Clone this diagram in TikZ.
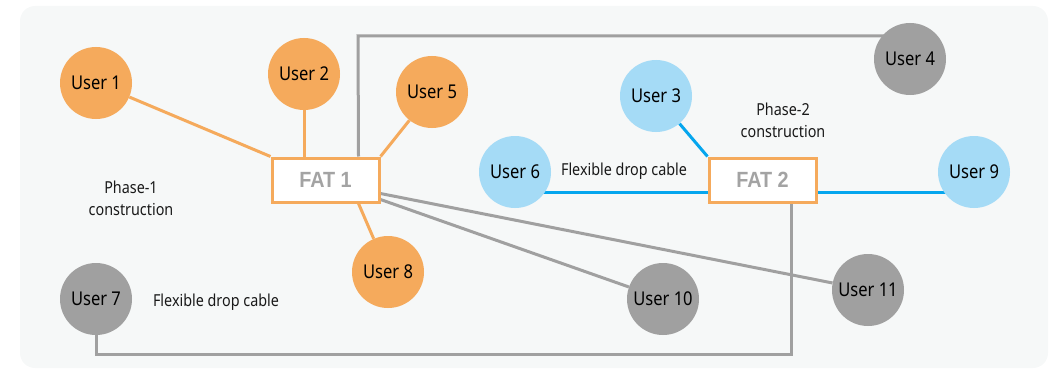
\documentclass[tikz,border=0pt]{standalone}
\usepackage{fontspec}
\setmainfont{Noto Sans}[FakeStretch=0.87]
\newfontfamily\fatfont{Liberation Sans}[FakeStretch=0.9]
\usetikzlibrary{calc}
\definecolor{panel}{HTML}{F6F8F8}
\definecolor{uorange}{HTML}{F5AA5C}
\definecolor{ublue}{HTML}{A5DBF6}
\definecolor{ugray}{HTML}{A0A0A0}
\definecolor{lblue}{HTML}{05A6EE}
\definecolor{fatgray}{HTML}{A3A3A3}
\pgfdeclarelayer{bg}
\pgfdeclarelayer{edges}
\pgfsetlayers{bg,edges,main}
\tikzset{
  user/.style={circle, minimum size=72pt, inner sep=0pt, text=black,
    font=\fontsize{19}{22}\selectfont},
  ouser/.style={user, fill=uorange},
  buser/.style={user, fill=ublue},
  guser/.style={user, fill=ugray},
  fat/.style={draw=uorange, line width=3pt, fill=white, minimum width=107pt,
    minimum height=44pt, inner sep=0pt, text=fatgray,
    font=\fatfont\bfseries\fontsize{22}{24}\selectfont},
  cableO/.style={draw=uorange, line width=3pt},
  cableB/.style={draw=lblue, line width=3pt},
  cableG/.style={draw=ugray, line width=3pt},
  note/.style={align=center, text=black!90, font=\fontsize{16.5}{22}\selectfont},
}
\begin{document}
\begin{tikzpicture}[x=1pt, y=-1pt]
\useasboundingbox (0,0) rectangle (1060,369);
\begin{pgfonlayer}{bg}
  \fill[panel, rounded corners=15pt] (20,6) rectangle (1048,368);
\end{pgfonlayer}

% access boxes
\node[fat] (fat1) at (325.5,180) {FAT 1};
\node[fat] (fat2) at (762.5,180) {FAT 2};

% users
\node[ouser] (u1) at (96,83) {User 1};
\node[ouser] (u2) at (304,74) {User 2};
\node[ouser] (u5) at (432,92) {User 5};
\node[ouser] (u8) at (388,272) {User 8};
\node[buser] (u3) at (656,96) {User 3};
\node[buser] (u6) at (515,172) {User 6};
\node[buser] (u9) at (974,172) {User 9};
\node[guser] (u4) at (910,59) {User 4};
\node[guser] (u7) at (96,299) {User 7};
\node[guser] (u10) at (663,299) {User 10};
\node[guser] (u11) at (868,290) {User 11};

% labels
\node[note] (ph1) at (131,198) {Phase-1\\construction};
\node[note] (ph2) at (783,120) {Phase-2\\construction};
\node[note] (fd1) at (624,171) {Flexible drop cable};
\node[note] (fd2) at (216,302) {Flexible drop cable};

% cable attachment points on the boxes
\coordinate (f1top) at ($(fat1.north west)!0.8!(fat1.north east)$);
\coordinate (f1bot) at ($(fat1.south west)!0.8!(fat1.south east)$);
\coordinate (f1r1) at ($(fat1.south east)+(0,-10)$);
\coordinate (f1r2) at ($(fat1.south east)+(0,-4)$);
\coordinate (f2l) at ($(fat2.south west)+(0,-11)$);
\coordinate (f2r) at ($(fat2.south east)+(0,-11)$);
\coordinate (f2bot) at ($(fat2.south west)!0.76!(fat2.south east)$);
\coordinate (bend4) at (358,36);
\coordinate (loopL) at (96,354);

\begin{pgfonlayer}{edges}
  % phase-1 drops
  \draw[cableO] (u1) -- (fat1.north west);
  \draw[cableO] (u2) -- (u2 |- fat1.north);
  \draw[cableO] (u5) -- (fat1.north east);
  \draw[cableO] (u8) -- (f1bot);
  % phase-2 drops
  \draw[cableB] (u3) -- (fat2.north west);
  \draw[cableB] (f2l) -- (u6.center |- f2l);
  \draw[cableB] (f2r) -- (u9.center |- f2r);
  % flexible drop cables (circles are drawn over the line ends)
  \draw[cableG] (f1top) -- (bend4) -- (u4.center |- bend4);
  \draw[cableG] (f1r1) -- (u11);
  \draw[cableG] (f1r2) -- (u10);
  \draw[cableG] (f2bot) |- (loopL) -- (u7);
\end{pgfonlayer}
\end{tikzpicture}
\end{document}
